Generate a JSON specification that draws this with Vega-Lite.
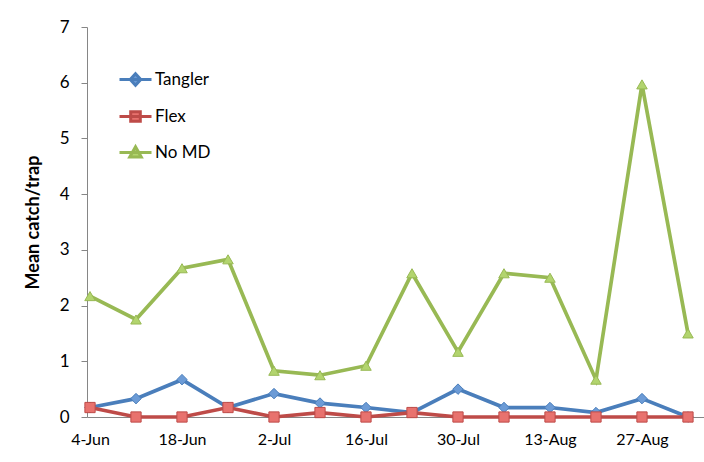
{
  "$schema": "https://vega.github.io/schema/vega-lite/v6.json",
  "autosize": {"type": "none"},
  "padding": {"left": 87, "top": 27, "right": 0, "bottom": 45},
  "width": 617,
  "height": 390,
  "background": "white",
  "config": {
    "view": {"stroke": null},
    "font": "Lato",
    "axis": {"labelFont": "Lato", "titleFont": "Lato", "labelColor": "#000000", "titleColor": "#000000", "domainColor": "#868686", "tickColor": "#868686", "grid": false, "labelFontSize": 16}
  },
  "data": {
    "values": [
      {"date": "2011-06-04", "series": "Tangler", "value": 0.17},
      {"date": "2011-06-11", "series": "Tangler", "value": 0.33},
      {"date": "2011-06-18", "series": "Tangler", "value": 0.67},
      {"date": "2011-06-25", "series": "Tangler", "value": 0.17},
      {"date": "2011-07-02", "series": "Tangler", "value": 0.42},
      {"date": "2011-07-09", "series": "Tangler", "value": 0.25},
      {"date": "2011-07-16", "series": "Tangler", "value": 0.17},
      {"date": "2011-07-23", "series": "Tangler", "value": 0.08},
      {"date": "2011-07-30", "series": "Tangler", "value": 0.5},
      {"date": "2011-08-06", "series": "Tangler", "value": 0.17},
      {"date": "2011-08-13", "series": "Tangler", "value": 0.17},
      {"date": "2011-08-20", "series": "Tangler", "value": 0.08},
      {"date": "2011-08-27", "series": "Tangler", "value": 0.33},
      {"date": "2011-09-03", "series": "Tangler", "value": 0.0},
      {"date": "2011-06-04", "series": "Flex", "value": 0.17},
      {"date": "2011-06-11", "series": "Flex", "value": 0.0},
      {"date": "2011-06-18", "series": "Flex", "value": 0.0},
      {"date": "2011-06-25", "series": "Flex", "value": 0.17},
      {"date": "2011-07-02", "series": "Flex", "value": 0.0},
      {"date": "2011-07-09", "series": "Flex", "value": 0.08},
      {"date": "2011-07-16", "series": "Flex", "value": 0.0},
      {"date": "2011-07-23", "series": "Flex", "value": 0.08},
      {"date": "2011-07-30", "series": "Flex", "value": 0.0},
      {"date": "2011-08-06", "series": "Flex", "value": 0.0},
      {"date": "2011-08-13", "series": "Flex", "value": 0.0},
      {"date": "2011-08-20", "series": "Flex", "value": 0.0},
      {"date": "2011-08-27", "series": "Flex", "value": 0.0},
      {"date": "2011-09-03", "series": "Flex", "value": 0.0},
      {"date": "2011-06-04", "series": "No MD", "value": 2.17},
      {"date": "2011-06-11", "series": "No MD", "value": 1.75},
      {"date": "2011-06-18", "series": "No MD", "value": 2.67},
      {"date": "2011-06-25", "series": "No MD", "value": 2.83},
      {"date": "2011-07-02", "series": "No MD", "value": 0.83},
      {"date": "2011-07-09", "series": "No MD", "value": 0.75},
      {"date": "2011-07-16", "series": "No MD", "value": 0.92},
      {"date": "2011-07-23", "series": "No MD", "value": 2.58},
      {"date": "2011-07-30", "series": "No MD", "value": 1.17},
      {"date": "2011-08-06", "series": "No MD", "value": 2.58},
      {"date": "2011-08-13", "series": "No MD", "value": 2.5},
      {"date": "2011-08-20", "series": "No MD", "value": 0.67},
      {"date": "2011-08-27", "series": "No MD", "value": 5.97},
      {"date": "2011-09-03", "series": "No MD", "value": 1.5}
    ]
  },
  "encoding": {
    "x": {
      "field": "date", "type": "temporal",
      "scale": {"type": "utc", "domain": [
        {"year": 2011, "month": "jun", "date": 3, "hours": 13, "utc": true},
        {"year": 2011, "month": "sep", "date": 5, "hours": 10, "minutes": 30, "utc": true}
      ]},
      "axis": {
        "title": null, "format": "%-d-%b",
        "values": [
          {"year": 2011, "month": "jun", "date": 4, "utc": true},
          {"year": 2011, "month": "jun", "date": 18, "utc": true},
          {"year": 2011, "month": "jul", "date": 2, "utc": true},
          {"year": 2011, "month": "jul", "date": 16, "utc": true},
          {"year": 2011, "month": "jul", "date": 30, "utc": true},
          {"year": 2011, "month": "aug", "date": 13, "utc": true},
          {"year": 2011, "month": "aug", "date": 27, "utc": true}
        ],
        "ticks": false, "labelPadding": 14, "labelFlush": false, "labelOverlap": false
      }
    },
    "y": {
      "field": "value", "type": "quantitative",
      "scale": {"domain": [0, 7], "nice": false},
      "axis": {
        "title": "Mean catch/trap", "titleFontSize": 18, "titleFontWeight": "bold", "titlePadding": 17,
        "values": [0, 1, 2, 3, 4, 5, 6, 7], "tickSize": 6, "labelPadding": 12, "labelFontSize": 17
      }
    }
  },
  "layer": [
    {
      "mark": {"type": "line", "strokeWidth": 3.7},
      "encoding": {
        "color": {
          "field": "series", "type": "nominal",
          "scale": {"domain": ["Tangler", "Flex", "No MD"], "range": ["#4A7EBB", "#BE4B48", "#98B954"]},
          "legend": {
            "title": null, "orient": "none", "legendX": 31, "legendY": 35,
            "padding": 0, "rowPadding": 7, "labelFontSize": 17, "labelFont": "Lato", "labelColor": "#000000",
            "labelOffset": 2, "symbolSize": 1024, "symbolStrokeWidth": 3,
            "encode": {
              "symbols": {
                "update": {
                  "shape": {"signal": "datum.value === 'Tangler' ? 'M-1,0L1,0M0,-0.36L0.33,0L0,0.36L-0.33,0Z' : datum.value === 'Flex' ? 'M-1,0L1,0M-0.3,-0.3L0.3,-0.3L0.3,0.3L-0.3,0.3Z' : 'M-1,0L1,0M0,-0.36L0.36,0.28L-0.36,0.28Z'"},
                  "fill": {"signal": "datum.value === 'Tangler' ? '#6C9BD6' : datum.value === 'Flex' ? '#E8726E' : '#B2D46E'"},
                  "strokeWidth": {"value": 3}
                }
              }
            }
          }
        }
      }
    },
    {
      "transform": [{"filter": "datum.series === 'Tangler'"}],
      "mark": {"type": "point", "shape": "diamond", "filled": true, "size": 110, "fill": "#6C9BD6", "stroke": "#4A7EBB", "strokeWidth": 1, "opacity": 1}
    },
    {
      "transform": [{"filter": "datum.series === 'Flex'"}],
      "mark": {"type": "point", "shape": "square", "filled": true, "size": 105, "fill": "#E8726E", "stroke": "#BE4B48", "strokeWidth": 1, "opacity": 1}
    },
    {
      "transform": [{"filter": "datum.series === 'No MD'"}],
      "mark": {"type": "point", "shape": "triangle-up", "filled": true, "size": 110, "fill": "#B2D46E", "stroke": "#98B954", "strokeWidth": 1, "opacity": 1}
    }
  ]
}
